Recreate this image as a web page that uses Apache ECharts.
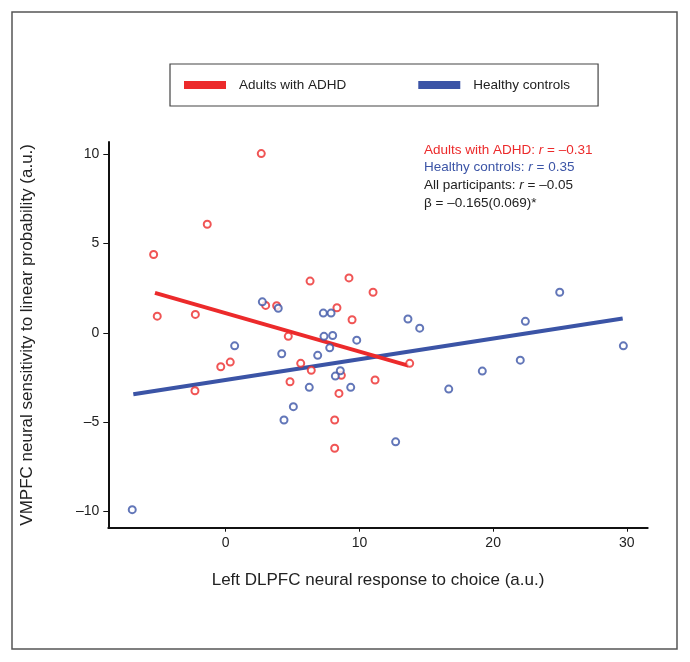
<!DOCTYPE html>
<html>
<head>
<meta charset="utf-8">
<script src="https://cdn.jsdelivr.net/npm/echarts@6/dist/echarts.min.js"></script>
<style>
html,body{margin:0;padding:0;background:#fff;}
#chart{width:690px;height:662px;}
</style>
</head>
<body>
<div id="chart"></div>
<script>
// ---- data ----
const adhdX = [2.66, -1.38, -5.39, -5.12, -2.27, 2.99, 3.81, 4.68, 0.34, -0.37, -2.30, 4.81, 6.31, 9.22, 11.02, 8.32, 9.45, 5.61, 6.40, 8.65, 8.47, 11.17, 13.76, 8.15, 8.15];
const adhdY = [10.02, 6.07, 4.38, 0.93, 1.03, 1.53, 1.51, -0.20, -1.64, -1.90, -3.24, -2.74, 2.89, 3.07, 2.27, 1.40, 0.73, -1.71, -2.10, -2.38, -3.39, -2.64, -1.71, -4.88, -6.46];
const hcX = [2.74, 3.93, 0.67, 4.19, 5.06, 4.36, -6.99, 7.30, 7.88, 13.63, 14.51, 7.35, 8.00, 9.80, 6.88, 7.78, 6.25, 8.57, 8.20, 9.35, 12.71, 24.98, 22.41, 29.74, 22.03, 19.19, 16.68];
const hcY = [1.73, 1.37, -0.73, -1.17, -4.13, -4.88, -9.89, 1.10, 1.10, 0.77, 0.26, -0.20, -0.15, -0.41, -1.26, -0.84, -3.05, -2.12, -2.42, -3.05, -6.10, 2.27, 0.64, -0.73, -1.53, -2.14, -3.15];
const adhdFitX = [-5.29, 13.66];
const adhdFitY = [2.23, -1.84];
const hcFitX = [-6.91, 29.69];
const hcFitY = [-3.44, 0.80];
const xTicks = [0, 10, 20, 30];
const yTicks = [-10, -5, 0, 5, 10];
const seriesNames = ['Adults with ADHD', 'Healthy controls'];
const statLines = ['Adults with ADHD: ', 'Healthy controls: ', 'All participants: ', 'β = –0.165(0.069)*'];
const statR = ['–0.31', '0.35', '–0.05'];

// ---- styles ----
const RED = '#ec2a2b';
const BLUE = '#3b54a6';
const FONT = '"Liberation Sans", Arial, Helvetica, sans-serif';
const zip = (xs, ys) => xs.map((x, i) => [x, ys[i]]);
const fmt = v => String(v).replace('-', '–');

const chart = echarts.init(document.getElementById('chart'), null, {renderer: 'canvas'});
const statTop = 143;
const statGap = 17.6;
const statColors = [RED, BLUE, '#222'];
const graphics = [
  {type: 'rect', shape: {x: 12, y: 12, width: 665, height: 637}, style: {fill: 'none', stroke: '#555', lineWidth: 1.5}, z: -1}
];
for (let i = 0; i < 3; i++) {
  graphics.push({
    type: 'text', left: 424, top: statTop + i * statGap,
    style: {
      text: '{a|' + statLines[i] + '}{i|r}{a| = ' + statR[i] + '}',
      rich: {
        a: {fontFamily: FONT, fontSize: 13.5, fill: statColors[i]},
        i: {fontFamily: FONT, fontSize: 13.5, fontStyle: 'italic', fill: statColors[i]}
      }
    }
  });
}
graphics.push({
  type: 'text', left: 424, top: statTop + 3 * statGap,
  style: {text: statLines[3], fontFamily: FONT, fontSize: 13.5, fill: '#222'}
});

const option = {
  animation: false,
  backgroundColor: '#fff',
  textStyle: {fontFamily: FONT},
  grid: {left: 108.3, right: 42.3, top: 142, bottom: 134.3, containLabel: false},
  legend: {
    data: seriesNames,
    left: 170, top: 64,
    padding: [14, 28, 14, 14],
    borderColor: '#444', borderWidth: 1.2,
    icon: 'rect', itemWidth: 42, itemHeight: 8, itemGap: 72,
    textStyle: {fontFamily: FONT, fontSize: 13.5, color: '#222', padding: [0, 0, 0, 8]}
  },
  xAxis: {
    type: 'value', min: -8.78, max: 31.56,
    name: 'Left DLPFC neural response to choice (a.u.)',
    nameLocation: 'middle', nameGap: 44,
    nameTextStyle: {fontFamily: FONT, fontSize: 17, color: '#222'},
    axisLine: {show: true, onZero: false, lineStyle: {color: '#111', width: 2}},
    axisTick: {show: true, customValues: xTicks, length: 4, lineStyle: {color: '#111', width: 1}},
    axisLabel: {customValues: xTicks, formatter: fmt, fontFamily: FONT, fontSize: 14, color: '#222', margin: 8},
    splitLine: {show: false}
  },
  yAxis: {
    type: 'value', min: -10.9, max: 10.67,
    name: 'VMPFC neural sensitivity to linear probability (a.u.)',
    nameLocation: 'middle', nameGap: 72,
    nameTextStyle: {fontFamily: FONT, fontSize: 17, color: '#222'},
    axisLine: {show: true, onZero: false, lineStyle: {color: '#111', width: 2}},
    axisTick: {show: true, customValues: yTicks, length: 5, lineStyle: {color: '#111', width: 1}},
    axisLabel: {customValues: yTicks, formatter: fmt, fontFamily: FONT, fontSize: 14, color: '#222', margin: 9},
    splitLine: {show: false}
  },
  graphic: graphics,
  series: [
    {
      name: seriesNames[1], type: 'line', data: zip(hcFitX, hcFitY),
      showSymbol: false, symbol: 'none', color: BLUE,
      lineStyle: {color: BLUE, width: 4}, z: 3, silent: true
    },
    {
      name: seriesNames[0], type: 'line', data: zip(adhdFitX, adhdFitY),
      showSymbol: false, symbol: 'none', color: RED,
      lineStyle: {color: RED, width: 4}, z: 4, silent: true
    },
    {
      name: 'ADHD points', type: 'scatter', data: zip(adhdX, adhdY),
      symbol: 'emptyCircle', symbolSize: 7,
      itemStyle: {color: RED, borderColor: RED, borderWidth: 1.3}, z: 5
    },
    {
      name: 'HC points', type: 'scatter', data: zip(hcX, hcY),
      symbol: 'emptyCircle', symbolSize: 7,
      itemStyle: {color: BLUE, borderColor: BLUE, borderWidth: 1.3}, z: 5
    }
  ]
};
chart.setOption(option);
</script>
</body>
</html>
